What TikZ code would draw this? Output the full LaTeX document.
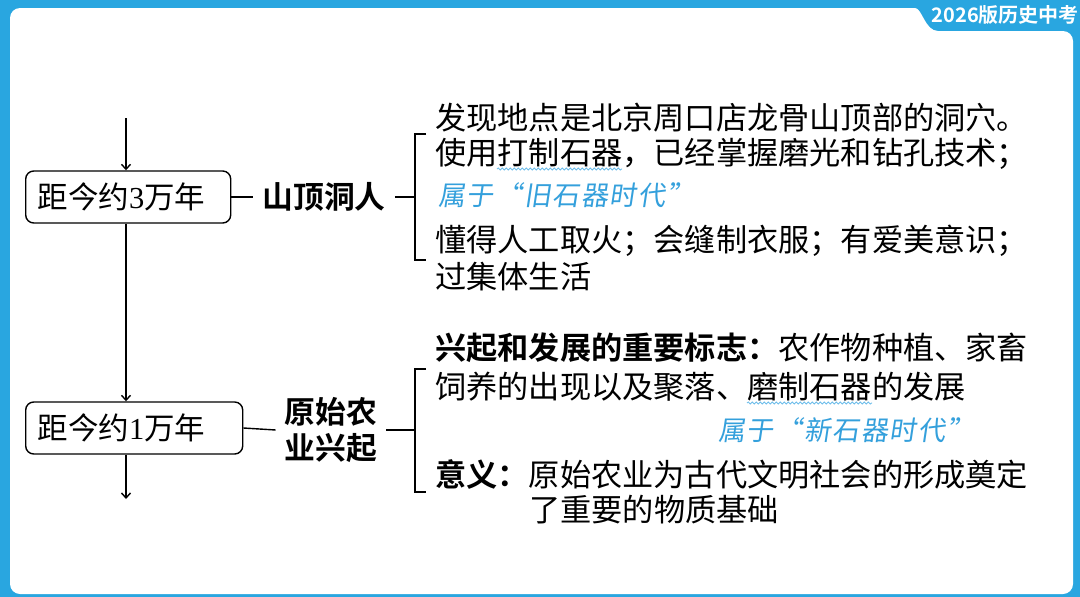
\documentclass[tikz,border=0pt]{standalone}
\usepackage{fontspec}
\newfontfamily\zh{Noto Sans CJK SC}[BoldFont={Noto Sans CJK SC Bold}]
\newfontfamily\hand{Noto Sans CJK SC}[FakeSlant=0.15,LetterSpace=6]
\newfontfamily\dig{Liberation Serif}
\usetikzlibrary{arrows.meta,decorations.pathmorphing}
\definecolor{frameblue}{RGB}{41,166,224}
\definecolor{handblue}{RGB}{52,160,220}
\definecolor{wavyblue}{RGB}{110,190,235}
\begin{document}
\begin{tikzpicture}[x=1pt,y=-1pt,
  every node/.style={inner sep=0pt, font=\zh\fontsize{30.5}{36}\selectfont},
  line/.style={line width=1.4pt, draw=black},
  tbox/.style={draw, line width=1.4pt, rounded corners=8pt, minimum height=52pt, inner xsep=12pt, align=left, anchor=west},
  title/.style={font=\zh\bfseries\fontsize{30.8}{36}\selectfont, inner xsep=9pt, align=center},
  txt/.style={anchor=west, text height=25pt, text depth=1.2pt, font=\zh\fontsize{31.2}{36}\selectfont},
  note/.style={anchor=west, text=handblue, font=\hand\fontsize{27}{30}\selectfont, text height=21.6pt, text depth=1.1pt},
  wavy/.style={draw=wavyblue, line width=0.8pt, decorate, decoration={snake, segment length=4pt, amplitude=1.1pt}},
  arr/.style={line, -{Straight Barb[length=5pt,width=9pt]}}
]
\useasboundingbox (0,0) rectangle (1080,597);
% frame
\fill[frameblue] (0,0) rectangle (1080,597);
\fill[white, rounded corners=10pt] (10,594) -- (10,8) -- (905,8) .. controls (922,8) and (925,31) .. (948,31) -- (1073,31) -- (1073,594) -- cycle;
\node[anchor=east, text=white, font=\zh\bfseries\fontsize{20}{22}\selectfont] (badge) at (1079,15) {2026版历史中考};

% time boxes
\node[tbox, text width=181pt] (b1) at (25,197) {距今约{\dig 3}万年};
\node[tbox, text width=193pt] (b2) at (25,428) {距今约{\dig 1}万年};

% titles
\node[title] (t1) at (324,197) {山顶洞人};
\node[title] (t2) at (331,430) {原始农\\业兴起};

% vertical timeline
\coordinate (top) at (126,118);
\coordinate (bot) at (126,499);
\draw[arr] (top) -- (top |- b1.north);
\draw[arr] (top |- b1.south) -- (top |- b2.north);
\draw[arr] (top |- b2.south) -- (bot);

% connectors to titles
\draw[line] (b1.east) -- (t1.west);
\draw[line] (b2.east) -- (t2.west);

% brackets
\coordinate (k1) at (415,197);
\coordinate (k2) at (415,430);
\draw[line] (t1.east) -- (k1);
\draw[line] (426,134) -| (415,260) -- (426,260);
\draw[line] (t2.east) -- (k2);
\draw[line] (426,369) -| (415,492) -- (426,492);

% block 1
\node[txt] (l11) at (435,118) {发现地点是北京周口店龙骨山顶部的洞穴。};
\node[txt] (l12) at (435,153) {使用打制石器，已经掌握磨光和钻孔技术；};
\node[note] (n1) at (438,195) {属于“旧石器时代”};
\node[txt] (l14) at (435,240) {懂得人工取火；会缝制衣服；有爱美意识；};
\node[txt] (l15) at (435,277) {过集体生活};
\draw[wavy] (497,169) -- (622,169);

% block 2
\node[txt] (l21) at (435,348) {{\bfseries 兴起和发展的重要标志：}农作物种植、家畜};
\node[txt] (l22) at (435,387) {饲养的出现以及聚落、磨制石器的发展};
\node[note] (n2) at (718,430) {属于“新石器时代”};
\node[txt] (l24) at (435,475) {{\bfseries 意义：}原始农业为古代文明社会的形成奠定};
\node[txt] (l25) at (529,510) {了重要的物质基础};
\draw[wavy] (747,403) -- (872,403);
\end{tikzpicture}
\end{document}
